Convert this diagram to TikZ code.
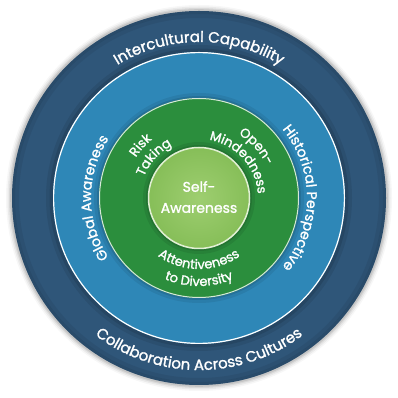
\documentclass[tikz,border=0pt]{standalone}
\usepackage{fontspec}
\newfontfamily\pf{Poppins}[FakeBold=1.4]
\usetikzlibrary{decorations.text}
\definecolor{ringdark}{HTML}{2F5679}
\definecolor{ringblue}{HTML}{2E87B7}
\definecolor{ringgreen}{HTML}{2B8E3D}
\definecolor{corelight}{HTML}{86BE58}
\definecolor{corecenter}{HTML}{9ECE70}
\newcommand\fouter{\pf\fontsize{15pt}{15pt}\selectfont}
\newcommand\fside{\pf\fontsize{14pt}{14pt}\selectfont}
\newcommand\fgreen{\pf\fontsize{13pt}{13pt}\selectfont}
\newcommand\fself{\pf\fontsize{14pt}{21pt}\selectfont}
\tikzset{
  arctext/.style={decorate, decoration={text along path, text align=center, text color=white, text={#1}}},
  shadowdisc/.style={fill=black, opacity=#1},
}
\begin{document}
\begin{tikzpicture}
\useasboundingbox (0,0) rectangle (398pt,398pt);
\fill[white] (0,0) rectangle (398pt,398pt);
\begin{scope}[shift={(199pt,200pt)}]
  % soft outer shadow
  \foreach \r/\o in {193/0.03,191.5/0.05,190/0.07,188.8/0.09}{\fill[shadowdisc=\o] (0,0) circle (\r pt);}
  % outer ring
  \fill[ringdark] (0,0) circle (187pt);
  \draw[black,opacity=0.12,line width=3pt] (0,0) circle (185.5pt);
  \draw[black,opacity=0.06,line width=4pt] (0,0) circle (182pt);
  % shadow of blue disc
  \fill[shadowdisc=0.08] (0,0) circle (153pt);
  \fill[shadowdisc=0.10] (0,0) circle (149.5pt);
  \fill[ringblue] (0,0) circle (146pt);
  \draw[white,line width=1.2pt] (0,0) circle (145.4pt);
  % shadow of green disc
  \fill[shadowdisc=0.07] (0,0) circle (105pt);
  \fill[shadowdisc=0.10] (0,0) circle (102pt);
  \fill[ringgreen] (0,0) circle (100pt);
  \draw[white!80!ringgreen,line width=1pt] (0,0) circle (99.5pt);
  % shadow of core
  \fill[shadowdisc=0.08] (0,0) circle (56pt);
  \fill[shadowdisc=0.10] (0,0) circle (53pt);
  \shade[inner color=corecenter, outer color=corelight] (0,0) circle (51pt);
  \draw[white!75!corelight,line width=1.5pt] (0,0) circle (50.5pt);

  % outer ring texts
  \path[arctext={|\fouter|Intercultural Capability}] (150:156pt) arc[start angle=150, end angle=30, radius=156pt];
  \path[arctext={|\fouter|Collaboration Across Cultures}] (200:172pt) arc[start angle=200, end angle=340, radius=172pt];
  % blue ring texts
  \path[arctext={|\fside|Global Awareness}] (240:108pt) arc[start angle=240, end angle=120, radius=108pt];
  \path[arctext={|\fside|Historical Perspective}] (60:108pt) arc[start angle=60, end angle=-60, radius=108pt];
  % green ring texts
  \path[arctext={|\fgreen|Risk}] (170:75pt) arc[start angle=170, end angle=106, radius=75pt];
  \path[arctext={|\fgreen|Taking}] (180:59pt) arc[start angle=180, end angle=96, radius=59pt];
  \path[arctext={|\fgreen|Open-}] (74:75pt) arc[start angle=74, end angle=10, radius=75pt];
  \path[arctext={|\fgreen|Mindedness}] (100:59pt) arc[start angle=100, end angle=-16, radius=59pt];
  \path[arctext={|\fgreen|Attentiveness}] (200:71pt) arc[start angle=200, end angle=340, radius=71pt];
  \path[arctext={|\fgreen|to Diversity}] (200:88pt) arc[start angle=200, end angle=340, radius=88pt];
  % core text
  \node[align=center, text=white, font=\fself, inner sep=0pt] (self) at (0,1pt) {Self-\\Awareness};
\end{scope}
\end{tikzpicture}
\end{document}
